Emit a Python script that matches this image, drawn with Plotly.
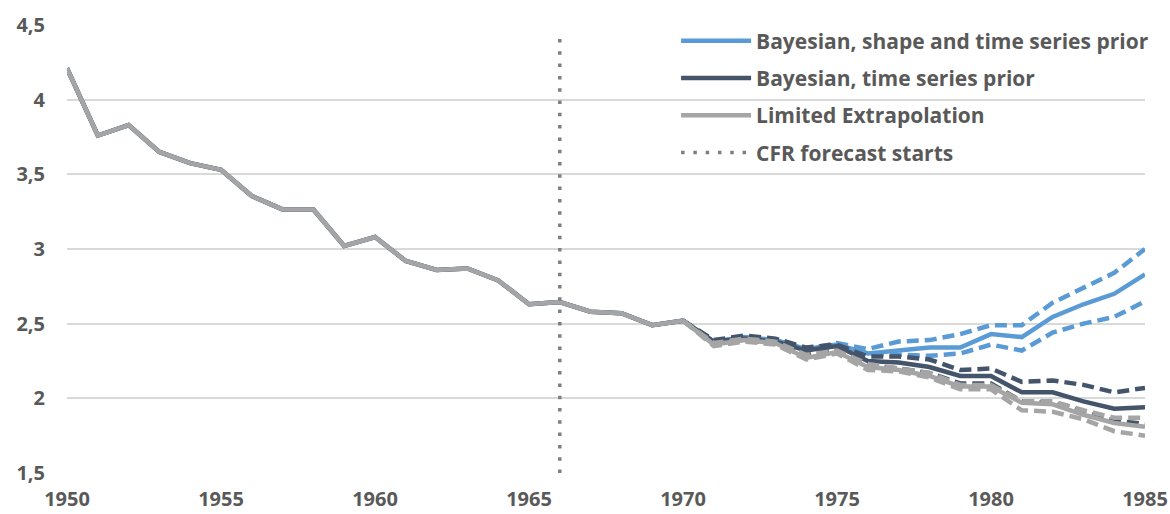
import plotly.graph_objects as go

years_hist = list(range(1950, 1971))
hist = [4.21, 3.76, 3.83, 3.65, 3.575, 3.53, 3.355, 3.265, 3.265, 3.02, 3.08,
        2.92, 2.86, 2.87, 2.79, 2.63, 2.645, 2.58, 2.57, 2.49, 2.52]

years_fc = list(range(1970, 1986))
shape_mean = [2.52, 2.38, 2.41, 2.39, 2.33, 2.36, 2.30, 2.32, 2.34, 2.34, 2.43, 2.41, 2.545, 2.63, 2.70, 2.83]
shape_up = [2.52, 2.38, 2.41, 2.39, 2.33, 2.37, 2.33, 2.38, 2.39, 2.43, 2.49, 2.49, 2.64, 2.74, 2.84, 3.00]
shape_lo = [2.52, 2.38, 2.41, 2.39, 2.33, 2.35, 2.30, 2.29, 2.285, 2.30, 2.36, 2.32, 2.44, 2.50, 2.545, 2.65]

ts_mean = [2.52, 2.38, 2.40, 2.38, 2.32, 2.35, 2.25, 2.24, 2.21, 2.15, 2.15, 2.04, 2.04, 1.98, 1.93, 1.94]
ts_up = [2.52, 2.39, 2.42, 2.40, 2.34, 2.36, 2.28, 2.28, 2.26, 2.19, 2.20, 2.11, 2.12, 2.09, 2.04, 2.07]
ts_lo = [2.52, 2.37, 2.39, 2.37, 2.29, 2.33, 2.22, 2.20, 2.17, 2.10, 2.10, 1.98, 1.97, 1.91, 1.85, 1.83]

le_mean = [2.52, 2.36, 2.39, 2.37, 2.27, 2.31, 2.21, 2.19, 2.15, 2.08, 2.08, 1.97, 1.96, 1.89, 1.835, 1.81]
le_up = [2.52, 2.37, 2.40, 2.38, 2.29, 2.32, 2.23, 2.20, 2.17, 2.09, 2.09, 1.98, 1.98, 1.92, 1.87, 1.87]
le_lo = [2.52, 2.35, 2.38, 2.36, 2.26, 2.30, 2.19, 2.18, 2.14, 2.06, 2.06, 1.92, 1.91, 1.86, 1.78, 1.75]

forecast_year = [1966, 1966]
forecast_y = [1.5, 4.43]

x_ticks = [1950, 1955, 1960, 1965, 1970, 1975, 1980, 1985]
y_ticks = [1.5, 2, 2.5, 3, 3.5, 4, 4.5]
y_ticktext = ["1,5", "2", "2,5", "3", "3,5", "4", "4,5"]

names = ["Bayesian, shape and time series prior", "Bayesian, time series prior",
         "Limited Extrapolation", "CFR forecast starts"]
colors = ["#5B9BD5", "#44546A", "#A5A5A5", "#7F7F7F"]

years_all = years_hist + years_fc[1:]
fig = go.Figure()
dash = "12px,6px"
groups = [(shape_mean, shape_up, shape_lo), (ts_mean, ts_up, ts_lo), (le_mean, le_up, le_lo)]
for i, (m, u, l) in enumerate(groups):
    for b in (u, l):
        fig.add_trace(go.Scatter(x=years_fc, y=b, mode="lines", showlegend=False,
                                 legendgroup=f"g{i}",
                                 line=dict(color=colors[i], width=4.5, dash=dash), hoverinfo="skip"))
    fig.add_trace(go.Scatter(x=years_all, y=hist + m[1:], mode="lines", name=names[i],
                             legendgroup=f"g{i}",
                             line=dict(color=colors[i], width=4.5)))

fig.add_trace(go.Scatter(x=forecast_year, y=forecast_y, mode="lines", name=names[3],
                         legendgroup="g3",
                         line=dict(color=colors[3], width=3.5, dash="3.5px,8.8px")))

FONT = "Open Sans"
tickfont = dict(family=FONT, size=20, color="#595959", weight="bold")
fig.update_layout(
    width=1170, height=514,
    margin=dict(l=67, r=25, t=25, b=41, autoexpand=False),
    plot_bgcolor="white", paper_bgcolor="white",
    separators=", ",
    showlegend=True,
    legend=dict(x=0.565, xanchor="left", y=1.01, yanchor="top",
                bgcolor="rgba(0,0,0,0)", traceorder="grouped", tracegroupgap=7,
                itemwidth=70,
                font=dict(family=FONT, size=21, color="#595959", weight="bold")),
    xaxis=dict(range=[1950, 1985], tickmode="array", tickvals=x_ticks,
               showgrid=False, zeroline=False, showline=False, tickfont=tickfont,
               ticks="", ticklabelstandoff=12, automargin=False),
    yaxis=dict(range=[1.5, 4.5], tickmode="array", tickvals=y_ticks,
               ticktext=y_ticktext,
               showgrid=True, gridcolor="#D9D9D9", gridwidth=1.5, zeroline=False,
               showline=False, tickfont=tickfont, ticks="", ticklabelstandoff=21,
               automargin=False),
)
fig.write_html(
    "out.html",
    config={"displayModeBar": False},
    post_script="document.body.style.margin='0';document.body.style.overflow='hidden';",
)
